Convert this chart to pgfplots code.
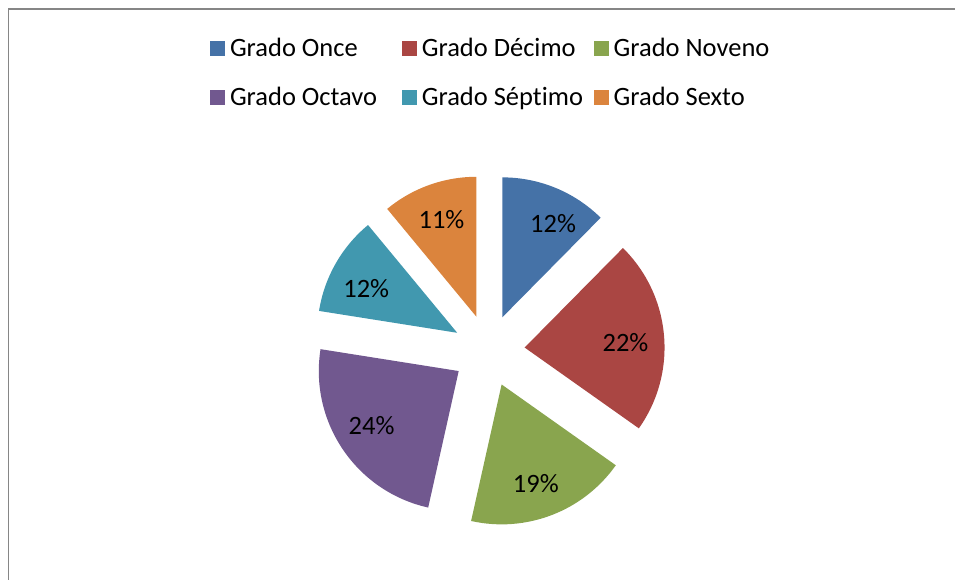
\documentclass[border=0pt]{standalone}
\usepackage{fontspec}
\setmainfont{Carlito}[Ligatures=NoCommon]
\usepackage{pgfplots}
\usepackage{pgfplotstable}
\pgfplotsset{compat=1.18}

\definecolor{c0}{HTML}{4572A7}
\definecolor{c1}{HTML}{AA4643}
\definecolor{c2}{HTML}{89A54E}
\definecolor{c3}{HTML}{71588F}
\definecolor{c4}{HTML}{4198AF}
\definecolor{c5}{HTML}{DB843D}
\definecolor{frame}{HTML}{868686}
\tikzset{lbl/.style={font=\fontsize{26.5}{31}\selectfont, inner sep=0pt}}

% share of each grade, clockwise from 12 o'clock;
% turn/dist: where its label sits (degrees off the bisector, distance)
\pgfplotstableread{
grade pct turn dist
Once 12.4 -6 107
Decimo 22.4 -2.5 101
Noveno 18.7 -2 105
Octavo 24.0 -2 103
Septimo 11.5 4 101
Sexto 11.0 0 103
}\piedata
\pgfplotstablecreatecol[create col/expr accum={\pgfmathaccuma + \thisrow{pct}}{0}]{cum}\piedata

\begin{document}
\begin{tikzpicture}
\begin{axis}[
    hide axis,
    scale only axis,
    width=956pt, height=580pt,
    xmin=0, xmax=956, ymin=0, ymax=580,
    clip=false,
]
\path (0,0) rectangle (956,580);
\draw[frame, line width=1.5pt] (8.5,0) -- (8.5,571) -- (956,571);

% exploded slices
\pgfplotsinvokeforeach{0,...,5}{
    \pgfplotstablegetelem{#1}{pct}\of\piedata \let\p\pgfplotsretval
    \pgfplotstablegetelem{#1}{cum}\of\piedata \let\c\pgfplotsretval
    \pgfplotstablegetelem{#1}{turn}\of\piedata \let\t\pgfplotsretval
    \pgfplotstablegetelem{#1}{dist}\of\piedata \let\d\pgfplotsretval
    \pgfmathsetmacro\sa{90-3.6*(\c-\p)}
    \pgfmathsetmacro\ea{90-3.6*\c}
    \pgfmathsetmacro\ma{(\sa+\ea)/2}
    \pgfmathsetmacro\ax{489+36.2*cos(\ma)}
    \pgfmathsetmacro\ay{229+36.2*sin(\ma)}
    \pgfmathsetmacro\lx{\ax+\d*cos(\ma+\t)}
    \pgfmathsetmacro\ly{\ay+\d*sin(\ma+\t)}
    \pgfmathtruncatemacro\pp{round(\p)}
    \edef\temp{
        \noexpand\fill[c#1] (\ax,\ay) -- ++(\sa:140pt)
            arc[start angle=\sa, end angle=\ea, radius=140pt] -- cycle;
        \noexpand\node[lbl] at (\lx,\ly) {\pp\noexpand\%};
    }
    \temp
}

% legend
\fill[c0] (210,524) rectangle (225,539);
\node[lbl, anchor=base west] at (230,523) {Grado Once};
\fill[c1] (402,524) rectangle (417,539);
\node[lbl, anchor=base west] at (422,523) {Grado Décimo};
\fill[c2] (594,524) rectangle (609,539);
\node[lbl, anchor=base west] at (614,523) {Grado Noveno};
\fill[c3] (210,475) rectangle (225,490);
\node[lbl, anchor=base west] at (230,474) {Grado Octavo};
\fill[c4] (402,475) rectangle (417,490);
\node[lbl, anchor=base west] at (422,474) {Grado Séptimo};
\fill[c5] (594,475) rectangle (609,490);
\node[lbl, anchor=base west] at (614,474) {Grado Sexto};
\end{axis}
\end{tikzpicture}
\end{document}
